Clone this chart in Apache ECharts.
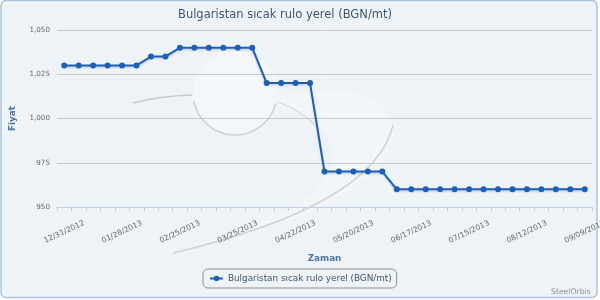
<!DOCTYPE html>
<html>
<head>
<meta charset="utf-8">
<script src="https://cdn.jsdelivr.net/npm/echarts@6/dist/echarts.min.js"></script>
<style>html,body{margin:0;padding:0;background:#fff}#c{width:600px;height:300px}</style>
</head>
<body>
<div id="c"></div>
<script>
var categories = ['12/31/2012','01/07/2013','01/14/2013','01/21/2013','01/28/2013','02/04/2013','02/11/2013','02/18/2013','02/25/2013','03/04/2013','03/11/2013','03/18/2013','03/25/2013','04/01/2013','04/08/2013','04/15/2013','04/22/2013','04/29/2013','05/06/2013','05/13/2013','05/20/2013','05/27/2013','06/03/2013','06/10/2013','06/17/2013','06/24/2013','07/01/2013','07/08/2013','07/15/2013','07/22/2013','07/29/2013','08/05/2013','08/12/2013','08/19/2013','08/26/2013','09/02/2013','09/09/2013'];
var prices = [1030,1030,1030,1030,1030,1030,1035,1035,1040,1040,1040,1040,1040,1040,1020,1020,1020,1020,970,970,970,970,970,960,960,960,960,960,960,960,960,960,960,960,960,960,960];
var yTicks = [950, 975, 1000, 1025, 1050];
var seriesName = 'Bulgaristan sıcak rulo yerel (BGN/mt)';
var titleText = 'Bulgaristan sıcak rulo yerel (BGN/mt)';

var FONT = 'DejaVu Sans';
var chart = echarts.init(document.getElementById('c'), null, {renderer: 'canvas'});
chart.setOption({
  animation: false,
  backgroundColor: '#ffffff',
  textStyle: {fontFamily: FONT},
  graphic: [
    {type: 'rect', z: -20, silent: true, shape: {x: 1, y: 0.5, width: 596, height: 297, r: 5},
     style: {fill: '#eef3f7', stroke: '#aac4dd', lineWidth: 1.5}},
    {type: 'polygon', z: -16, silent: true,
     shape: {smooth: 0.4, points: [[173,253],[300,215],[372,172],[393,125],[362,95],[300,92],[277,102],[318,126],[333,160],[292,208]]},
     style: {fill: 'rgba(255,255,255,0.3)'}},
    {type: 'circle', z: -15, silent: true, shape: {cx: 235, cy: 93, r: 42},
     style: {fill: 'rgba(255,255,255,0.35)'}},
    {type: 'arc', z: -15, silent: true, shape: {cx: 235, cy: 93, r: 42, startAngle: 0.25, endAngle: 2.95},
     style: {stroke: 'rgba(140,140,140,0.35)', lineWidth: 1.5, fill: null}},
    {type: 'bezierCurve', z: -15, silent: true,
     shape: {x1: 133, y1: 103, x2: 192, y2: 95, cpx1: 160, cpy1: 96},
     style: {stroke: 'rgba(150,150,150,0.45)', lineWidth: 1.5, fill: null}},
    {type: 'bezierCurve', z: -15, silent: true,
     shape: {x1: 173, y1: 253, x2: 393, y2: 125, cpx1: 375, cpy1: 205},
     style: {stroke: 'rgba(140,140,140,0.35)', lineWidth: 1.5, fill: null}},
    {type: 'bezierCurve', z: -15, silent: true,
     shape: {x1: 278, y1: 102, x2: 315, y2: 125, cpx1: 300, cpy1: 110},
     style: {stroke: 'rgba(140,140,140,0.3)', lineWidth: 1.2, fill: null}},
    {type: 'text', z: 5, silent: true, left: 551, top: 288,
     style: {text: 'SteelOrbis', fill: '#909090', font: '7.7px "DejaVu Sans"'}}
  ],
  title: {
    text: titleText,
    left: 178, top: 9, padding: 0,
    textStyle: {fontFamily: FONT, fontSize: 11.5, fontWeight: 'normal', color: '#3e576f'}
  },
  legend: {
    left: 203, top: 269,
    padding: [4, 5, 4, 6],
    borderColor: '#909090', borderWidth: 1, borderRadius: 5,
    itemWidth: 13, itemHeight: 7, itemGap: 5,
    textStyle: {fontFamily: FONT, fontSize: 8.8, color: '#3e576f', lineHeight: 11},
    data: [seriesName]
  },
  grid: {left: 57, right: 8, top: 30, bottom: 93, containLabel: false, outerBoundsMode: 'none'},
  xAxis: {
    type: 'category',
    data: categories,
    boundaryGap: true,
    name: 'Zaman', nameLocation: 'middle', nameGap: 47,
    nameTextStyle: {fontFamily: FONT, fontSize: 8.8, fontWeight: 'bold', color: '#4d759e'},
    axisLine: {lineStyle: {color: '#c0d0e0', width: 1}},
    axisTick: {show: true, interval: 0, length: 4, lineStyle: {color: '#c0d0e0'}},
    axisLabel: {
      interval: 3, rotate: 25, align: 'center', verticalAlign: 'middle', margin: 25,
      fontFamily: FONT, fontSize: 7.6, color: '#666666', hideOverlap: false
    },
    splitLine: {show: false}
  },
  yAxis: {
    type: 'value',
    min: yTicks[0], max: yTicks[yTicks.length - 1], interval: 25,
    name: 'Fiyat', nameLocation: 'middle', nameGap: 40, nameRotate: 90,
    nameTextStyle: {fontFamily: FONT, fontSize: 8.8, fontWeight: 'bold', color: '#4d759e'},
    axisLine: {show: false}, axisTick: {show: false},
    axisLabel: {
      margin: 7, fontFamily: FONT, fontSize: 7.2, color: '#666666',
      formatter: function (v) { return v.toLocaleString('en-US'); }
    },
    splitLine: {lineStyle: {color: '#c8c8c8', width: 1}}
  },
  series: [{
    name: seriesName,
    type: 'line',
    data: prices,
    symbol: 'circle', symbolSize: 6, showSymbol: true,
    itemStyle: {color: '#1c5fb7'},
    lineStyle: {color: '#1c5fb7', width: 2, shadowColor: 'rgba(0,0,0,0.15)', shadowBlur: 2, shadowOffsetY: 1.5}
  }]
});
</script>
</body>
</html>
